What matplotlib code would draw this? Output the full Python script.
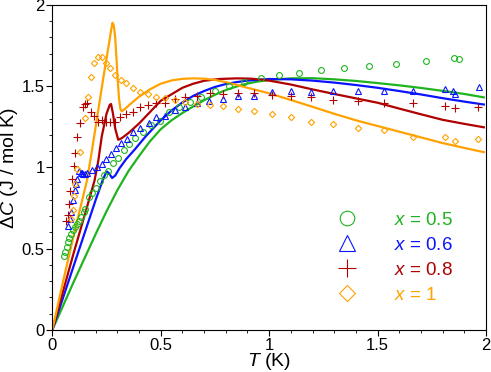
import numpy as np
import matplotlib
matplotlib.use("Agg")
import matplotlib.pyplot as plt
from matplotlib.ticker import MultipleLocator, FormatStrFormatter
from matplotlib.lines import Line2D

plt.rcParams['font.family'] = ['Liberation Sans', 'DejaVu Sans']
plt.rcParams['mathtext.fontset'] = 'custom'
plt.rcParams['mathtext.rm'] = 'Liberation Sans'
plt.rcParams['mathtext.it'] = 'Liberation Sans:italic'

# measured points, x = 0.5
t_05 = [0.052, 0.060, 0.066, 0.072, 0.078, 0.086, 0.095, 0.103, 0.114, 0.124, 0.134, 0.145,
        0.152, 0.168, 0.183, 0.203, 0.218, 0.237, 0.255, 0.280, 0.303, 0.329, 0.355, 0.383,
        0.417, 0.456, 0.496, 0.539, 0.585, 0.635, 0.688, 0.750, 0.816, 0.885, 0.962, 1.046,
        1.138, 1.237, 1.344, 1.459, 1.584, 1.725, 1.853, 1.874]
c_05 = [0.454, 0.480, 0.511, 0.542, 0.569, 0.593, 0.613, 0.634, 0.654, 0.671, 0.695, 0.726,
        0.746, 0.818, 0.842, 0.875, 0.914, 0.951, 0.977, 1.025, 1.060, 1.105, 1.145, 1.180,
        1.217, 1.262, 1.288, 1.339, 1.370, 1.400, 1.436, 1.468, 1.503, 1.523, 1.548, 1.569,
        1.581, 1.599, 1.612, 1.622, 1.636, 1.652, 1.673, 1.667]

# x = 0.6
t_06 = [0.072, 0.080, 0.088, 0.095, 0.103, 0.109, 0.114, 0.124, 0.131, 0.137, 0.143, 0.149,
        0.160, 0.183, 0.206, 0.229, 0.247, 0.269, 0.294, 0.318, 0.344, 0.372, 0.406, 0.444,
        0.478, 0.519, 0.565, 0.611, 0.668, 0.724, 0.788, 0.857, 0.931, 1.011, 1.099, 1.194,
        1.295, 1.409, 1.529, 1.664, 1.810, 1.847, 1.856, 1.968]
c_06 = [0.638, 0.680, 0.726, 0.798, 0.863, 0.900, 0.931, 0.977, 0.968, 0.965, 0.962, 0.961,
        0.965, 0.986, 1.002, 1.023, 1.050, 1.080, 1.118, 1.149, 1.176, 1.217, 1.241, 1.272,
        1.313, 1.319, 1.354, 1.374, 1.394, 1.411, 1.421, 1.442, 1.442, 1.462, 1.468, 1.462,
        1.472, 1.468, 1.468, 1.468, 1.483, 1.470, 1.450, 1.493]

# x = 0.8
t_08 = [0.065, 0.071, 0.075, 0.083, 0.091, 0.100, 0.106, 0.115, 0.127, 0.140, 0.152, 0.160,
        0.178, 0.194, 0.211, 0.229, 0.247, 0.266, 0.288, 0.313, 0.340, 0.370, 0.404, 0.441,
        0.478, 0.519, 0.565, 0.611, 0.668, 0.726, 0.788, 0.857, 0.931, 1.011, 1.099, 1.194,
        1.295, 1.409, 1.529, 1.664, 1.810, 1.856, 1.965]
c_08 = [0.669, 0.706, 0.777, 0.855, 0.930, 1.006, 1.087, 1.190, 1.274, 1.374, 1.390, 1.397,
        1.344, 1.319, 1.282, 1.293, 1.282, 1.282, 1.282, 1.309, 1.330, 1.340, 1.370, 1.385,
        1.397, 1.397, 1.420, 1.436, 1.442, 1.456, 1.452, 1.456, 1.456, 1.446, 1.442, 1.431,
        1.415, 1.411, 1.397, 1.397, 1.380, 1.366, 1.370]

# x = 1
t_10 = [0.085, 0.094, 0.098, 0.106, 0.114, 0.126, 0.149, 0.163, 0.177, 0.192, 0.209, 0.228,
        0.246, 0.267, 0.290, 0.317, 0.341, 0.372, 0.404, 0.440, 0.478, 0.519, 0.565, 0.611,
        0.668, 0.727, 0.788, 0.857, 0.931, 1.011, 1.099, 1.194, 1.295, 1.409, 1.529, 1.664,
        1.810, 1.856, 1.965]
c_10 = [0.685, 0.740, 0.822, 0.900, 0.992, 1.094, 1.305, 1.431, 1.558, 1.640, 1.680, 1.680,
        1.644, 1.610, 1.570, 1.538, 1.520, 1.487, 1.462, 1.450, 1.436, 1.425, 1.417, 1.400,
        1.390, 1.385, 1.376, 1.360, 1.350, 1.329, 1.310, 1.278, 1.268, 1.241, 1.231, 1.190,
        1.186, 1.161, 1.176]

# model curves
lt_05 = [0, 0.05, 0.1, 0.15, 0.2, 0.25, 0.3, 0.35, 0.4, 0.45, 0.5, 0.55, 0.6, 0.65, 0.7,
         0.75, 0.8, 0.85, 0.9, 0.95, 1.0, 1.1, 1.2, 1.3, 1.4, 1.5, 1.6, 1.7, 1.8, 1.9, 1.99]
lc_05 = [0, 0.15, 0.30, 0.445, 0.59, 0.73, 0.86, 0.975, 1.07, 1.16, 1.235, 1.29, 1.335,
         1.375, 1.413, 1.447, 1.476, 1.498, 1.516, 1.529, 1.538, 1.548, 1.549, 1.542, 1.532,
         1.519, 1.505, 1.489, 1.471, 1.452, 1.431]

lt_06 = [0, 0.05, 0.1, 0.15, 0.2, 0.232, 0.245, 0.252, 0.262, 0.276, 0.29, 0.31, 0.34, 0.38,
         0.43, 0.5, 0.55, 0.6, 0.65, 0.7, 0.75, 0.8, 0.85, 0.9, 1.0, 1.1, 1.2, 1.3, 1.4, 1.5,
         1.6, 1.7, 1.8, 1.9, 1.99]
lc_06 = [0, 0.2, 0.40, 0.60, 0.80, 0.92, 0.96, 0.975, 0.963, 0.935, 0.95, 0.995, 1.05, 1.11,
         1.19, 1.29, 1.35, 1.40, 1.44, 1.47, 1.495, 1.513, 1.525, 1.534, 1.544, 1.542, 1.534,
         1.522, 1.507, 1.49, 1.47, 1.449, 1.426, 1.405, 1.387]

lt_08 = [0, 0.05, 0.1, 0.15, 0.195, 0.212, 0.228, 0.25, 0.265, 0.271, 0.28, 0.29, 0.304,
         0.32, 0.35, 0.4, 0.45, 0.5, 0.55, 0.6, 0.65, 0.7, 0.77, 0.85, 0.92, 1.0, 1.1, 1.2,
         1.3, 1.4, 1.5, 1.6, 1.7, 1.8, 1.9, 1.99]
lc_08 = [0, 0.24, 0.48, 0.71, 0.92, 1.04, 1.19, 1.33, 1.385, 1.39, 1.33, 1.24, 1.17,
         1.18, 1.21, 1.27, 1.34, 1.41, 1.45, 1.49, 1.515, 1.533, 1.544, 1.548, 1.546, 1.534,
         1.51, 1.48, 1.452, 1.425, 1.398, 1.362, 1.327, 1.293, 1.268, 1.247]

lt_10 = [0, 0.05, 0.1, 0.16, 0.18, 0.2, 0.22, 0.24, 0.26, 0.272, 0.278, 0.284, 0.29, 0.296,
         0.302, 0.308, 0.314, 0.32, 0.335, 0.36, 0.4, 0.45, 0.5, 0.55, 0.6, 0.65, 0.7, 0.75,
         0.8, 0.9, 1.0, 1.1, 1.2, 1.3, 1.4, 1.5, 1.6, 1.7, 1.8, 1.9, 1.99]
lc_10 = [0, 0.30, 0.59, 0.92, 1.08, 1.25, 1.42, 1.59, 1.75, 1.85, 1.89, 1.87, 1.80, 1.67,
         1.53, 1.42, 1.36, 1.345, 1.36, 1.39, 1.435, 1.48, 1.515, 1.535, 1.545, 1.548, 1.546,
         1.538, 1.525, 1.49, 1.456, 1.415, 1.373, 1.33, 1.29, 1.255, 1.22, 1.185, 1.15, 1.12,
         1.094]

labels = ['0.5', '0.6', '0.8', '1']
colors = ['#1fb41f', '#0a14ff', '#b00000', '#ffa200']
markers = ['o', '^', '+', 'D']
msizes = [4.2, 4.6, 5.2, 3.2]

fig = plt.figure(figsize=(4.91, 3.72), dpi=100)
ax = fig.add_axes([0.1065, 0.1129, 0.8833, 0.874])

pts = [(t_05, c_05), (t_06, c_06), (t_08, c_08), (t_10, c_10)]
lines = [(lt_05, lc_05), (lt_06, lc_06), (lt_08, lc_08), (lt_10, lc_10)]

for (lt, lc), col in zip(lines, colors):
    ax.plot(lt, lc, color=col, lw=1.6, zorder=2, solid_joinstyle='round')

for (t, c), col, m, ms in zip(pts, colors, markers, msizes):
    ax.plot(t, c, ls='none', marker=m, ms=ms, mfc='none', mec=col, mew=0.8, zorder=3)

handles = [Line2D([], [], ls='none', marker=m, ms=ms, mfc='none', mec=col, mew=0.8)
           for m, ms, col in zip(markers, msizes, colors)]
leg = ax.legend(handles, [r'$x$ = ' + s for s in labels], loc='center',
                bbox_to_anchor=(0.79, 0.222), frameon=False, fontsize=13.5,
                markerscale=2.5, handlelength=1.0, handletextpad=2.0, labelspacing=0.42,
                labelcolor=colors)

ax.set_xlim(0, 2)
ax.set_ylim(0, 2)
ax.xaxis.set_major_locator(MultipleLocator(0.5))
ax.xaxis.set_minor_locator(MultipleLocator(0.1))
ax.yaxis.set_major_locator(MultipleLocator(0.5))
ax.yaxis.set_minor_locator(MultipleLocator(0.1))
ax.xaxis.set_major_formatter(FormatStrFormatter('%g'))
ax.yaxis.set_major_formatter(FormatStrFormatter('%g'))
ax.tick_params(which='major', direction='out', length=4, width=0.8, labelsize=12, pad=1.5)
ax.tick_params(which='minor', direction='out', length=2.5, width=0.6)
ax.tick_params(top=False, right=False)

ax.set_xlabel(r'$T$ (K)', fontsize=14, labelpad=-1)
ax.set_ylabel(r'$\Delta C$ (J / mol K)', fontsize=14, labelpad=1)

plt.savefig('out.png', dpi=100)
